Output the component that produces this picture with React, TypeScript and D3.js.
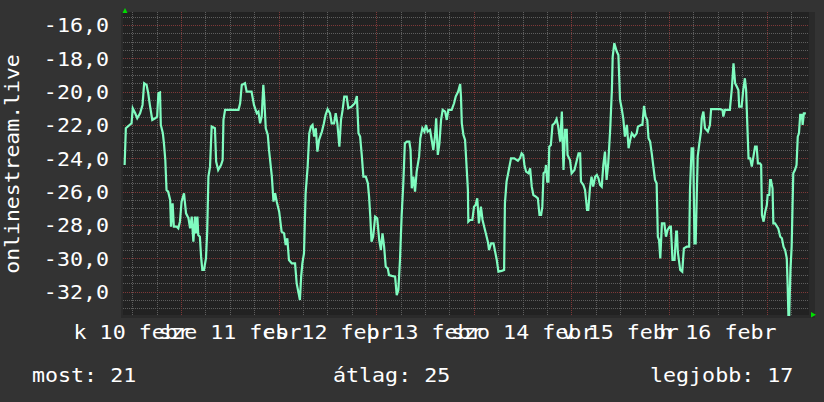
import React from "react";
import * as d3 from "d3";

// hours since the start of the one-week window, temperature reading
const readings: [number, number][] = [
  [0.4, -24.4], [0.7, -22.2], [2.1, -21.9], [2.4, -21.0], [3.0, -21.3], [3.5, -21.6], [4.2, -21.3], [4.8, -20.8],
  [5.2, -19.5], [5.8, -19.6], [6.2, -20.1], [6.6, -20.8], [7.2, -21.7], [7.9, -21.6], [8.4, -21.5], [8.7, -20.1],
  [9.1, -20.05], [9.3, -22.0], [9.8, -22.5], [10.1, -23.2], [10.4, -24.1], [10.7, -25.9], [11.1, -26.0], [11.6, -26.5],
  [11.8, -28.1], [12.2, -26.7], [12.5, -28.1], [13.2, -28.1], [13.6, -28.2], [14.0, -27.8], [14.4, -26.6], [15.0, -26.1],
  [15.5, -27.3], [16.1, -27.6], [16.5, -28.2], [16.9, -27.5], [17.3, -29.0], [17.7, -27.5], [18.0, -28.5], [18.3, -27.5],
  [18.5, -28.6], [18.9, -28.7], [19.2, -29.9], [19.5, -30.7], [19.9, -30.7], [20.4, -30.0], [20.7, -28.4], [21.0, -25.1],
  [21.4, -24.5], [21.8, -22.1], [22.6, -22.2], [22.9, -24.2], [23.4, -24.7], [24.1, -24.4], [24.5, -24.1], [24.7, -21.7],
  [25.1, -21.1], [27.5, -21.1], [28.4, -21.1], [28.8, -20.7], [29.2, -19.6], [30.0, -19.5], [30.4, -20.0], [31.6, -20.0],
  [32.2, -20.8], [32.9, -21.3], [33.3, -21.2], [33.7, -21.9], [34.1, -21.5], [34.5, -19.6], [34.7, -20.3], [35.1, -22.2],
  [35.6, -22.6], [35.9, -23.5], [36.6, -25.1], [37.0, -26.6], [37.4, -26.1], [37.8, -26.6], [38.4, -27.2], [39.0, -28.4],
  [39.6, -28.5], [40.0, -29.2], [40.4, -28.8], [40.8, -30.1], [41.5, -30.3], [42.3, -30.3], [42.7, -31.5], [43.1, -32.0],
  [43.5, -32.5], [43.8, -31.1], [44.1, -30.3], [44.5, -29.7], [44.9, -26.1], [45.4, -24.5], [45.8, -22.5], [46.2, -22.1],
  [46.6, -22.0], [47.0, -22.7], [47.4, -22.2], [47.8, -23.6], [48.2, -22.9], [48.9, -22.4], [49.4, -21.9], [49.8, -21.4],
  [50.3, -21.05], [50.9, -21.3], [51.3, -21.9], [51.9, -21.9], [52.3, -21.3], [52.7, -21.9], [53.2, -23.3], [53.6, -21.7],
  [54.0, -21.1], [54.4, -20.3], [55.0, -20.3], [55.4, -21.0], [56.2, -20.9], [57.0, -20.7], [57.5, -20.26], [57.9, -22.5],
  [58.3, -22.7], [58.7, -23.8], [59.1, -25.1], [59.7, -25.1], [60.2, -25.5], [60.5, -26.3], [60.8, -27.5], [61.1, -29.0],
  [61.5, -28.7], [62.0, -27.5], [62.5, -27.6], [63.0, -28.9], [63.4, -29.5], [63.8, -28.5], [64.2, -29.3], [64.6, -30.5],
  [65.1, -30.6], [65.4, -31.0], [66.1, -31.05], [66.9, -31.1], [67.3, -32.2], [67.7, -31.9], [68.1, -30.1], [68.5, -27.5],
  [68.9, -25.6], [69.3, -23.1], [69.8, -23.0], [70.4, -23.0], [70.7, -23.5], [71.0, -25.8], [71.4, -25.1], [71.8, -26.0],
  [72.2, -24.8], [72.8, -23.9], [73.1, -22.8], [73.6, -22.2], [74.1, -22.4], [74.5, -22.0], [74.9, -22.4], [75.5, -22.3],
  [75.9, -22.9], [76.3, -23.5], [76.7, -22.7], [77.0, -21.6], [77.4, -23.8], [77.8, -23.1], [78.2, -21.7], [78.6, -21.1],
  [79.2, -21.2], [79.6, -21.7], [80.0, -21.1], [80.8, -21.1], [81.4, -20.7], [81.8, -20.3], [82.4, -20.0], [82.9, -19.55],
  [83.1, -20.3], [83.3, -21.9], [83.7, -22.6], [84.1, -22.9], [84.5, -24.6], [84.8, -25.9], [84.9, -27.8], [85.3, -27.7],
  [85.9, -27.7], [86.3, -26.9], [86.7, -26.8], [87.1, -26.4], [87.5, -27.9], [88.0, -26.9], [88.4, -27.7], [88.8, -28.1],
  [89.3, -28.6], [89.7, -29.0], [90.0, -29.5], [90.5, -29.1], [91.1, -29.1], [91.5, -29.6], [91.9, -30.1], [92.3, -30.8],
  [93.1, -30.75], [93.7, -30.7], [93.9, -26.7], [94.3, -25.4], [94.7, -24.9], [95.4, -24.0], [96.2, -24.0], [97.1, -24.15],
  [97.6, -24.0], [98.0, -23.7], [98.4, -23.8], [98.7, -24.4], [99.1, -24.8], [99.7, -24.9], [100.1, -24.6], [100.5, -25.7],
  [100.9, -26.2], [101.5, -26.3], [102.0, -26.4], [102.4, -27.4], [102.8, -27.4], [103.1, -26.9], [103.4, -24.9], [103.8, -24.8],
  [104.0, -24.4], [104.3, -25.4], [104.6, -25.4], [104.8, -23.3], [105.2, -23.2], [105.6, -22.0], [106.1, -21.9], [106.6, -21.65],
  [107.0, -22.1], [107.5, -23.0], [107.9, -21.2], [108.3, -24.7], [108.7, -22.3], [109.1, -22.3], [109.3, -23.8], [109.9, -24.1],
  [110.3, -24.9], [111.0, -24.7], [111.6, -24.1], [112.0, -23.7], [112.4, -23.7], [112.6, -25.4], [113.2, -25.6], [113.6, -25.9],
  [114.1, -27.1], [114.4, -27.1], [114.8, -25.8], [115.2, -25.1], [115.6, -25.7], [116.1, -25.1], [116.5, -25.0], [116.9, -25.2],
  [117.3, -25.6], [117.7, -25.7], [118.1, -24.4], [118.5, -23.6], [118.9, -25.3], [119.3, -24.3], [119.8, -22.2], [120.2, -19.9],
  [120.4, -17.9], [120.8, -17.1], [121.4, -17.6], [121.8, -17.8], [122.2, -20.5], [122.6, -21.0], [123.0, -21.6], [123.4, -22.7],
  [123.9, -22.0], [124.3, -23.4], [124.7, -22.9], [125.1, -22.5], [125.7, -22.7], [126.3, -22.5], [126.6, -22.1], [127.4, -22.0],
  [127.7, -22.0], [128.1, -20.86], [128.5, -21.5], [128.9, -21.7], [129.2, -22.8], [129.6, -23.0], [130.0, -23.7], [130.4, -24.5],
  [130.8, -25.3], [131.2, -25.5], [131.5, -28.7], [131.8, -28.9], [132.1, -30.0], [132.5, -27.9], [133.1, -27.9], [133.5, -28.7],
  [133.9, -28.3], [134.4, -28.1], [134.7, -28.1], [135.1, -30.1], [135.6, -30.1], [136.0, -28.4], [136.2, -28.4], [136.4, -29.6],
  [137.0, -30.7], [137.5, -30.8], [137.9, -29.4], [138.6, -29.3], [139.2, -29.3], [139.4, -25.9], [139.8, -23.4], [140.2, -23.4],
  [140.5, -29.1], [140.8, -29.1], [141.1, -25.9], [141.3, -23.9], [141.7, -23.1], [142.1, -22.4], [142.3, -21.6], [142.7, -21.2],
  [143.1, -22.2], [143.8, -22.4], [144.3, -22.0], [144.6, -21.05], [145.6, -21.05], [146.8, -21.05], [147.4, -21.1], [147.6, -21.5],
  [148.0, -21.1], [149.2, -21.1], [149.7, -19.8], [150.1, -18.3], [150.5, -19.5], [150.9, -19.7], [151.3, -19.9], [151.5, -20.9],
  [152.1, -20.9], [152.5, -19.9], [152.9, -19.2], [153.2, -19.9], [153.5, -22.0], [153.8, -24.0], [154.2, -24.0], [154.6, -24.5],
  [155.0, -23.9], [155.4, -23.3], [155.8, -23.3], [156.1, -24.3], [156.6, -24.3], [156.9, -24.4], [157.1, -27.4], [157.5, -27.8],
  [157.9, -27.2], [158.3, -26.8], [158.5, -26.2], [158.9, -26.2], [159.1, -25.3], [159.3, -25.3], [159.7, -25.8], [159.9, -27.9],
  [160.3, -27.9], [161.1, -28.2], [161.6, -28.7], [162.0, -28.8], [162.4, -29.3], [162.8, -29.5], [163.2, -30.0], [163.4, -31.5],
  [163.6, -33.4], [163.8, -33.4], [164.1, -30.7], [164.4, -29.3], [164.8, -24.9], [165.2, -24.7], [165.6, -24.4], [165.9, -22.7],
  [166.2, -22.5], [166.5, -21.4], [166.9, -21.4], [167.1, -22.0], [167.4, -21.3], [167.9, -21.3],
];

const dayLabels = ["k 10 febr", "sze 11 febr", "cs 12 febr", "p 13 febr", "szo 14 febr", "v 15 febr", "h 16 febr"];
const yTicks = [-16, -18, -20, -22, -24, -26, -28, -30, -32];
const legendItems = ["most: 21", "átlag: 25", "legjobb: 17"];
const axisTitle = "onlinestream.live";
const windowStart = Date.UTC(2015, 1, 10, 9, 44, 24);
const windowHours = 168;

const W = 824;
const H = 402;
const PL = 123, PR = 809, PT = 12, PB = 315;
const FONT = "'DejaVu Sans Mono', monospace";
const FS = 19.5;
const SX = 1.11;

export default function App() {
  const start = new Date(windowStart);
  const end = new Date(windowStart + windowHours * 3600e3);
  const x = d3.scaleUtc().domain([start, end]).range([PL, 806.3]);
  const y = d3.scaleLinear().domain([-32, -16]).range([291.7, 24.9]);

  const minorH = d3.range(-33, -15.4, 0.5).filter((v) => y(v) > PT && y(v) < PB && Math.abs(v % 2) > 0.01);
  const majorH = yTicks;
  const majorV = d3.utcDay.range(start, end);
  const minorV = d3.utcHour.every(6)!.range(start, end).filter((d) => d.getUTCHours() !== 0);
  const noons = d3.utcDay
    .range(d3.utcDay.floor(start), end)
    .map((d) => new Date(+d + 12 * 3600e3))
    .filter((d) => d >= start && d <= end);

  const line = d3
    .line<[number, number]>()
    .x((d) => x(new Date(windowStart + d[0] * 3600e3)))
    .y((d) => y(d[1]));

  return (
    <svg
      width={W}
      height={H}
      style={{ position: "fixed", left: 0, top: 0, display: "block" }}
      fontFamily={FONT}
    >
      <defs>
        <clipPath id="plotclip">
          <rect x={PL} y={PT} width={PR - PL} height={PB - PT + 1} />
        </clipPath>
      </defs>
      <rect x={0} y={0} width={W} height={H} fill="#333333" />
      <rect x={121} y={PT} width={815 - 121} height={318 - PT} fill="#2a2a2a" />
      <rect x={PL} y={PT} width={PR - PL} height={PB - PT} fill="#222222" />

      {minorH.map((v) => (
        <line key={"mh" + v} x1={PL} x2={PR} y1={Math.round(y(v)) + 0.5} y2={Math.round(y(v)) + 0.5}
          stroke="#5e5e5e" strokeWidth={1} strokeDasharray="1,1" />
      ))}
      {minorV.map((d) => (
        <line key={"mv" + +d} x1={Math.round(x(d)) + 0.5} x2={Math.round(x(d)) + 0.5} y1={PT} y2={PB}
          stroke="#5e5e5e" strokeWidth={1} strokeDasharray="1,1" />
      ))}
      {majorH.map((v) => (
        <line key={"Mh" + v} x1={PL} x2={PR} y1={Math.round(y(v)) + 0.5} y2={Math.round(y(v)) + 0.5}
          stroke="#7e3838" strokeWidth={1} strokeDasharray="1,1" />
      ))}
      {majorV.map((d) => (
        <line key={"Mv" + +d} x1={Math.round(x(d)) + 0.5} x2={Math.round(x(d)) + 0.5} y1={PT} y2={PB}
          stroke="#7e3838" strokeWidth={1} strokeDasharray="1,1" />
      ))}

      <path d={line(readings) || ""} fill="none" stroke="#80fcc0" strokeWidth={2.2}
        strokeLinejoin="miter" clipPath="url(#plotclip)" />

      <polygon points="122.5,13 127.5,13 125,8" fill="#00dd00" />
      <polygon points="811,312 811,317.5 816,314.75" fill="#00dd00" />

      {yTicks.map((v) => (
        <text key={"yl" + v} transform={`translate(109,${y(v) + 7.3}) scale(${SX},1)`}
          textAnchor="end" fontSize={FS} fill="#ffffff">
          {v.toFixed(1).replace(".", ",")}
        </text>
      ))}

      {noons.map((d, i) => (
        <text key={"xl" + i} transform={`translate(${x(d)},338.5) scale(${SX},1)`}
          textAnchor="middle" fontSize={FS} fill="#ffffff">
          {dayLabels[i]}
        </text>
      ))}

      <text transform={`translate(19,164) rotate(-90) scale(1.1,1)`} textAnchor="middle"
        fontSize={FS} fill="#ffffff">
        {axisTitle}
      </text>

      {legendItems.map((t, i) => (
        <text key={"lg" + i} transform={`translate(${[32, 333, 650][i]},382) scale(${SX},1)`}
          fontSize={FS} fill="#ffffff">
          {t}
        </text>
      ))}
    </svg>
  );
}
